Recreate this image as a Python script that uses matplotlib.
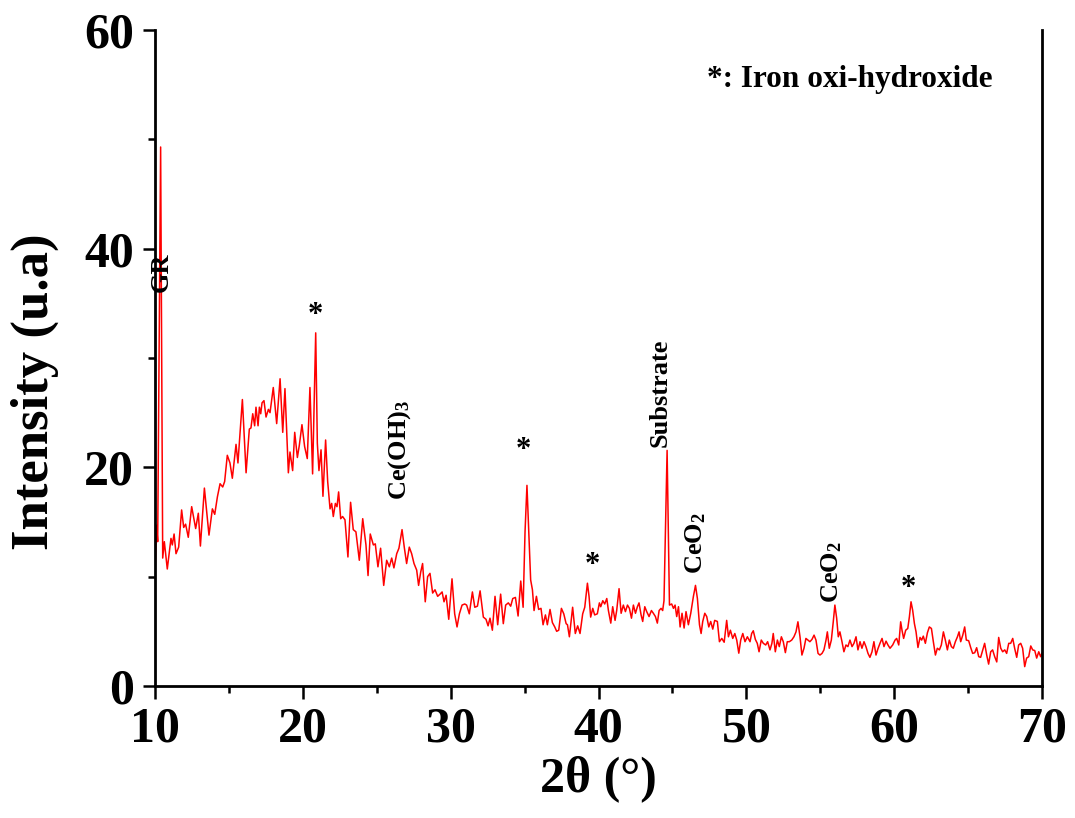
import matplotlib
matplotlib.use("Agg")
import matplotlib.pyplot as plt
import numpy as np

plt.rcParams['font.family'] = ['Liberation Serif', 'DejaVu Serif']
plt.rcParams['font.weight'] = 'bold'
plt.rcParams['mathtext.fontset'] = 'custom'
plt.rcParams['mathtext.rm'] = 'Liberation Serif:bold'
plt.rcParams['mathtext.it'] = 'Liberation Serif:bold'
plt.rcParams['mathtext.bf'] = 'Liberation Serif:bold'

# XRD pattern: 2-theta (degrees) and intensity (u.a)
two_theta = [
    10.00, 10.01, 10.11, 10.18, 10.38, 10.52, 10.63, 10.83, 11.08, 11.17,
    11.29, 11.42, 11.60, 11.80, 11.94, 12.07, 12.25, 12.48, 12.75, 12.93,
    13.07, 13.34, 13.65, 13.88, 14.04, 14.22, 14.40, 14.58, 14.71, 14.89,
    15.07, 15.23, 15.48, 15.61, 15.91, 16.16, 16.38, 16.49, 16.61, 16.74,
    16.83, 16.97, 17.06, 17.15, 17.24, 17.37, 17.51, 17.67, 17.78, 18.00,
    18.23, 18.46, 18.64, 18.79, 19.02,
    19.13, 19.31, 19.45, 19.63, 19.76, 19.94, 20.12, 20.30, 20.48, 20.66,
    20.87, 20.98, 21.09, 21.23, 21.36, 21.54, 21.68, 21.84, 21.95, 22.06,
    22.20, 22.31, 22.42, 22.56, 22.69, 22.85, 23.05, 23.23, 23.41, 23.59,
    23.82, 24.05, 24.27, 24.41, 24.56, 24.77, 24.90, 25.08, 25.26, 25.47,
    25.67, 25.85, 26.01, 26.16, 26.35, 26.50, 26.71, 26.86, 27.02, 27.20,
    27.36, 27.52, 27.70, 27.83, 27.97, 28.10, 28.28, 28.44, 28.60, 28.78,
    28.94, 29.12, 29.28, 29.42, 29.55, 29.69, 29.87,
    30.09, 30.27, 30.43, 30.59, 30.77, 30.95, 31.08, 31.26, 31.47, 31.63,
    31.81, 31.99, 32.21, 32.39, 32.53, 32.66, 32.82, 33.00, 33.18, 33.38,
    33.56, 33.72, 33.90, 34.06, 34.20, 34.38, 34.56, 34.74, 34.90, 35.03,
    35.16, 35.28, 35.41, 35.53, 35.64, 35.80, 35.95, 36.11, 36.25, 36.41,
    36.54, 36.72, 36.88, 37.04, 37.17, 37.31, 37.49, 37.65, 37.81, 37.90,
    38.03, 38.25, 38.43, 38.59, 38.75, 38.93, 39.07, 39.25, 39.36, 39.47,
    39.61, 39.74, 39.92, 40.06,
    40.15, 40.29, 40.42, 40.56, 40.67, 40.83, 40.96, 41.12, 41.23, 41.39,
    41.53, 41.68, 41.82, 41.96, 42.09, 42.23, 42.36, 42.50, 42.63, 42.74,
    42.88, 42.99, 43.13, 43.26, 43.42, 43.58, 43.71, 43.85, 43.98, 44.10,
    44.23, 44.34, 44.43, 44.64, 44.80, 44.95, 45.07, 45.18, 45.29, 45.41,
    45.52, 45.65, 45.79, 45.92, 46.08, 46.24, 46.42, 46.56, 46.69, 46.83,
    46.94, 47.05, 47.19, 47.32, 47.46, 47.59, 47.73, 47.86, 48.04, 48.18,
    48.34, 48.50, 48.67, 48.79, 48.92, 49.08, 49.22, 49.35, 49.49, 49.62,
    49.76, 49.91, 50.07, 50.25, 50.36, 50.47, 50.61, 50.74, 50.86, 51.01,
    51.15, 51.31, 51.44, 51.60, 51.73, 51.82, 51.96, 52.10, 52.23, 52.37,
    52.50, 52.64, 52.77, 52.91, 53.07, 53.22, 53.36, 53.49, 53.63, 53.76,
    53.90, 54.03, 54.17, 54.30, 54.44, 54.58, 54.71, 54.85, 54.98, 55.12,
    55.25, 55.39, 55.48, 55.61, 55.75, 55.88, 55.99, 56.11, 56.22, 56.33,
    56.47, 56.60, 56.74, 56.87, 57.01, 57.15, 57.28, 57.42, 57.55, 57.69,
    57.82, 57.96, 58.09, 58.23, 58.36, 58.50, 58.63, 58.77, 58.90, 59.04,
    59.18, 59.31, 59.45, 59.58, 59.72, 59.90, 60.06, 60.17, 60.31, 60.44,
    60.53, 60.64, 60.78, 60.92, 61.03, 61.14, 61.25, 61.37, 61.48, 61.61,
    61.75, 61.86, 61.97, 62.11, 62.25, 62.38, 62.52, 62.65, 62.79, 62.92,
    63.06, 63.19, 63.33, 63.46, 63.60, 63.73, 63.87, 64.00, 64.14, 64.28,
    64.39, 64.50, 64.64, 64.77, 64.88, 65.04, 65.18, 65.31, 65.45, 65.58,
    65.72, 65.85, 65.99, 66.12, 66.26, 66.39, 66.53, 66.66, 66.80, 66.94,
    67.07, 67.21, 67.34, 67.48, 67.61, 67.75, 67.88, 68.02, 68.15, 68.29,
    68.42, 68.56, 68.69, 68.83, 68.96, 69.10, 69.24, 69.37, 69.51, 69.64,
    69.78, 69.91, 70.00,
]

intensity = [
    7.6, 10.6, 14.7, 13.2, 49.3, 11.7, 13.2, 10.7, 13.5, 12.9,
    13.9, 12.1, 12.7, 16.1, 14.5, 14.8, 13.6, 16.4, 14.4, 15.8,
    12.8, 18.1, 13.8, 16.2, 15.7, 17.3, 18.5, 18.2, 18.7, 21.1,
    20.4, 19.0, 22.1, 20.4, 26.2, 19.5, 23.5, 23.6, 24.9, 23.8,
    25.5, 23.8, 25.5, 24.9, 25.9, 26.1, 24.6, 25.3, 25.0, 27.3,
    24.0, 28.1, 23.2, 27.2, 19.5,
    21.4, 19.7, 23.2, 20.9, 22.0, 23.9, 21.9, 20.8, 27.3, 19.4,
    32.3, 22.2, 19.7, 21.6, 17.35, 22.5, 18.7, 16.2, 16.7, 15.5,
    16.7, 16.4, 17.75, 15.3, 15.5, 15.2, 11.8, 16.8, 14.3, 14.1,
    11.5, 15.3, 12.9, 10.1, 13.9, 12.9, 13.0, 10.9, 12.6, 9.2,
    11.5, 10.9, 11.7, 10.8, 12.1, 12.6, 14.3, 12.7, 11.2, 12.7,
    12.1, 11.2, 10.6, 9.2, 10.4, 11.2, 7.7, 10.0, 10.3, 8.5,
    8.8, 8.2, 8.4, 8.6, 7.7, 8.3, 6.1,
    9.8, 6.6, 5.4, 6.6, 7.4, 7.5, 7.4, 6.6, 8.6, 7.2,
    7.3, 8.7, 6.3, 6.1, 5.5, 6.2, 5.1, 8.2, 5.6, 8.4,
    5.7, 7.4, 7.6, 7.3, 8.0, 8.1, 6.4, 9.6, 7.2, 14.1,
    18.35, 14.25, 9.7, 8.8, 6.9, 8.2, 7.0, 7.1, 5.6, 6.5,
    5.6, 7.0, 5.8, 5.4, 5.0, 5.1, 7.1, 6.6, 5.7, 5.6,
    4.5, 7.2, 4.8, 5.5, 4.8, 6.6, 7.2, 9.4, 8.2, 6.3,
    7.1, 6.5, 6.6, 7.6,
    7.25, 7.8, 7.5, 8.0, 6.9, 5.75, 7.25, 6.0, 6.9, 8.9,
    6.65, 7.4, 6.8, 7.4, 7.1, 6.2, 7.4, 6.65, 7.25, 7.6,
    6.5, 5.9, 7.25, 6.8, 6.35, 6.9, 6.65, 6.35, 5.75, 6.9,
    7.1, 6.9, 7.8, 21.55, 7.4, 7.5, 7.1, 7.4, 6.35, 7.25,
    5.4, 6.65, 5.3, 6.8, 5.6, 6.65, 8.2, 9.2, 8.0, 5.6,
    4.8, 5.9, 6.65, 6.35, 5.4, 5.9, 5.2, 6.0, 5.9, 4.05,
    4.35, 4.0, 6.0, 4.5, 5.1, 4.35, 4.8, 4.2, 3.0, 4.2,
    4.8, 4.05, 4.5, 4.05, 4.8, 5.05, 4.26, 3.9, 3.13, 4.2,
    3.9, 3.75, 4.05, 3.3, 3.9, 4.8, 3.13, 4.2, 3.6, 4.5,
    4.05, 3.05, 4.05, 4.05, 4.2, 4.5, 4.95, 5.87, 4.5, 2.83,
    3.45, 4.35, 4.2, 4.05, 4.26, 4.65, 4.2, 2.98, 2.83, 2.98,
    3.3, 4.2, 4.95, 3.45, 4.2, 5.87, 7.4, 6.2, 4.5, 4.95,
    4.05, 3.13, 3.75, 3.6, 4.2, 3.6, 3.9, 4.5, 3.3, 4.05,
    3.45, 4.05, 3.6, 2.98, 2.62, 3.13, 4.05, 2.83, 3.4, 3.9,
    4.35, 3.6, 4.1, 3.75, 3.45, 3.75, 4.2, 4.35, 3.75, 5.87,
    5.1, 4.35, 5.1, 5.26, 6.33, 7.7, 6.94, 5.7, 4.95, 3.52,
    4.44, 4.2, 4.56, 3.9, 4.87, 5.4, 5.26, 4.05, 2.83, 3.45,
    3.3, 3.75, 4.95, 4.2, 3.3, 4.2, 3.6, 3.45, 4.05, 4.5,
    4.95, 4.05, 4.65, 5.4, 4.2, 4.14, 3.5, 2.98, 3.04, 3.5,
    2.68, 2.62, 3.3, 3.9, 2.83, 2.0, 3.13, 3.3, 2.68, 2.2,
    4.44, 3.45, 3.13, 3.3, 2.98, 3.9, 3.9, 4.35, 3.45, 2.62,
    3.75, 3.9, 3.45, 1.77, 2.55, 2.68, 3.66, 3.3, 3.24, 2.55,
    3.13, 2.68, 3.0,
]

# Peak annotations: (text, x, y, rotation)
peak_labels = [
    ("GR", 10.42, 37.8, 90),
    ("*", 20.82, 33.9, 0),
    (r"Ce(OH)$_\mathregular{3}$", 26.57, 21.6, 90),
    ("*", 34.9, 21.5, 0),
    ("*", 39.56, 11.0, 0),
    ("Substrate", 44.16, 26.85, 90),
    (r"CeO$_\mathregular{2}$", 46.55, 13.1, 90),
    (r"CeO$_\mathregular{2}$", 55.8, 10.4, 90),
    ("*", 60.94, 8.9, 0),
]

fig = plt.figure(figsize=(10.75, 8.18), dpi=100)
ax = fig.add_axes([0.1442, 0.1614, 0.8251, 0.8019])

ax.plot(two_theta, intensity, color='#ff0000', lw=1.1)

ax.set_xlim(10, 70)
ax.set_ylim(0, 60)
ax.set_xticks([10, 20, 30, 40, 50, 60, 70])
ax.set_xticks([15, 25, 35, 45, 55, 65], minor=True)
ax.set_yticks([0, 20, 40, 60])
ax.set_yticks([10, 30, 50], minor=True)

ax.spines['top'].set_visible(False)
for side in ['left', 'bottom', 'right']:
    ax.spines[side].set_linewidth(2.0)
ax.tick_params(axis='both', which='major', direction='out', length=9,
               width=1.8, labelsize=36, pad=6)
ax.tick_params(axis='both', which='minor', direction='out', length=5,
               width=1.8)
ax.tick_params(right=False, top=False, which='both')
for lbl in ax.get_xticklabels() + ax.get_yticklabels():
    lbl.set_fontweight('bold')

ax.set_xlabel("2\u03b8 (\u00b0)", fontsize=36, fontweight='bold', labelpad=2)
ax.set_ylabel("Intensity (u.a)", fontsize=38, fontweight='bold')
ax.yaxis.set_label_coords(-0.108, 0.448)

for text, x, y, rot in peak_labels:
    if text == "*":
        ax.text(x, y, text, fontsize=22, fontweight='bold',
                ha='center', va='center')
    else:
        ax.text(x, y, text, fontsize=19, fontweight='bold', rotation=rot,
                ha='center', va='center')

ax.text(0.622, 0.925, "*: Iron oxi-hydroxide", transform=ax.transAxes,
        fontsize=22.5, fontweight='bold', ha='left', va='center')

fig.savefig("out.png", dpi=100)
